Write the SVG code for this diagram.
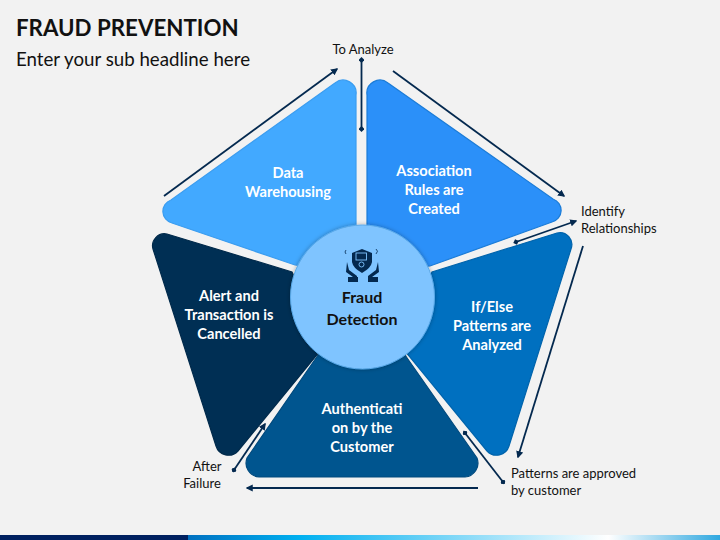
<svg xmlns="http://www.w3.org/2000/svg" width="720" height="540" viewBox="0 0 720 540">
<style>
text{font-family:Lato,"Open Sans","Liberation Sans",sans-serif;text-anchor:middle}
.w{fill:#fff;font-size:14.600px;font-weight:700}
.k{fill:#111;font-size:13px}
.l{text-anchor:start}
.c{stroke:#04294f;stroke-width:1.8;fill:none}
.p{stroke-width:1.2}
</style>
<defs>
<marker id="a" viewBox="0 0 10 10" refX="8" refY="5" markerWidth="4" markerHeight="4" orient="auto-start-reverse"><path d="M0 0L10 5L0 10z" fill="#04294f"/></marker>
<marker id="o" viewBox="0 0 10 10" refX="5" refY="5" markerWidth="3.200" markerHeight="3.200" orient="auto"><path d="M5 0L10 5L5 10L0 5z" fill="#04294f"/></marker>
<linearGradient id="bar" x1="0" x2="1" y1="0" y2="0"><stop offset="0" stop-color="#0070c0"/><stop offset=".21" stop-color="#00b0f0"/><stop offset=".79" stop-color="#ffffff"/><stop offset="1" stop-color="#2fa8e0"/></linearGradient>
<filter id="s" x="-20%" y="-20%" width="140%" height="140%"><feDropShadow dx="0" dy="0" stdDeviation="2" flood-color="#000" flood-opacity=".3"/></filter>
</defs>
<rect width="720" height="540" fill="#f2f2f2"/>
<rect x="188" y="535" width="532" height="5" fill="url(#bar)"/>
<rect y="535" width="188" height="5" fill="#002060"/>
<text id="title" class="l" x="16" y="36" style="font-size:22.300px;font-weight:700;fill:#111">FRAUD PREVENTION</text>
<text id="subtitle" class="l" x="16" y="66" style="font-size:18.700px;fill:#111">Enter your sub headline here</text>
<g id="connectors">
<path class="c" d="M164 196L337 69" marker-end="url(#a)"/>
<path class="c" d="M361.500 60V129" marker-start="url(#o)" marker-end="url(#o)"/>
<path class="c" d="M393 71L564 196" marker-end="url(#a)"/>
<path class="c" d="M576 221L516 242" marker-start="url(#a)" marker-end="url(#o)"/>
<path class="c" d="M583 246L518 457" marker-end="url(#a)"/>
<path class="c" d="M465 433L503 482" marker-start="url(#o)" marker-end="url(#o)"/>
<path class="c" d="M478 488H247" marker-end="url(#a)"/>
<path class="c" d="M265 424L234 470" marker-start="url(#a)" marker-end="url(#o)"/>
</g>
<g id="node-warehouse"><path class="p" fill="#42a9ff" stroke="#3b9df0" d="M335 83A13 13 0 0 1 356 95V272L295 265L172 223A12 12 0 0 1 171 200Z"/><text class="w" x="288" y="178">Data</text><text class="w" x="288" y="197">Warehousing</text></g>
<g id="node-association"><path class="p" fill="#2b90f9" stroke="#1b7cd8" d="M367 95A13 13 0 0 1 388 83L553 199A12 12 0 0 1 552 222L430 266L367 272Z"/><text class="w" x="434" y="176">Association</text><text class="w" x="434" y="195">Rules are</text><text class="w" x="434" y="214">Created</text></g>
<g id="node-ifelse"><path class="p" fill="#0070c0" stroke="#0064ac" d="M557 233A12 12 0 0 1 571 249L509 446A13 13 0 0 1 487 451L400 345L432 272Z"/><text class="w" x="492" y="312">If/Else</text><text class="w" x="492" y="331">Patterns are</text><text class="w" x="492" y="350">Analyzed</text></g>
<g id="node-auth"><path class="p" fill="#00558f" stroke="#004a7e" d="M259 477A14 14 0 0 1 247 458L325 345H398L477 458A14 14 0 0 1 465 477Z"/><text class="w" x="362" y="414">Authenticati</text><text class="w" x="362" y="433">on by the</text><text class="w" x="362" y="452">Customer</text></g>
<g id="node-alert"><path class="p" fill="#002f54" stroke="#002a4b" d="M167 234A12 12 0 0 0 153 249L216 446A13 13 0 0 0 238 451L325 345L292 272Z"/><text class="w" x="229" y="301">Alert and</text><text class="w" x="229" y="320">Transaction is</text><text class="w" x="229" y="339">Cancelled</text></g>
<g id="node-center">
<circle cx="362.500" cy="297" r="72" fill="#7fc4ff" stroke="#5aa9e8" filter="url(#s)"/>
<g fill="#04294f">
<path d="M352 253L362 249L372 253V262Q371 268 362 273Q353 268 352 262Z"/>
<path d="M347 262L349 270L357 276V280H353V277L346 272ZM378 262L376 270L368 276V280H372V277L379 272Z"/>
<rect x="348" y="277" width="10" height="5"/><rect x="368" y="277" width="10" height="5"/>
</g>
<g fill="none" stroke="#7fc4ff" stroke-width=".9"><rect x="356" y="253" width="10.500" height="7"/><circle cx="361.500" cy="264.500" r="2.500"/></g>
<g fill="none" stroke="#04294f" stroke-width=".8"><path d="M346 250Q344 252 346 254"/><path d="M376 249Q379 251 376 254"/></g>
<text x="362" y="303" style="font-size:16px;font-weight:700;fill:#111">Fraud</text>
<text x="362" y="325" style="font-size:16px;font-weight:700;fill:#111">Detection</text>
</g>
<text id="lbl-analyze" class="k" x="363" y="54">To Analyze</text>
<text id="lbl-identify" class="k l" x="581" y="216">Identify</text>
<text id="lbl-relationships" class="k l" x="581" y="233">Relationships</text>
<text id="lbl-patterns1" class="k l" x="511" y="478">Patterns are approved</text>
<text id="lbl-patterns2" class="k l" x="511" y="495">by customer</text>
<text id="lbl-after" class="k" x="207" y="471">After</text>
<text id="lbl-failure" class="k" x="202" y="488">Failure</text>
</svg>
